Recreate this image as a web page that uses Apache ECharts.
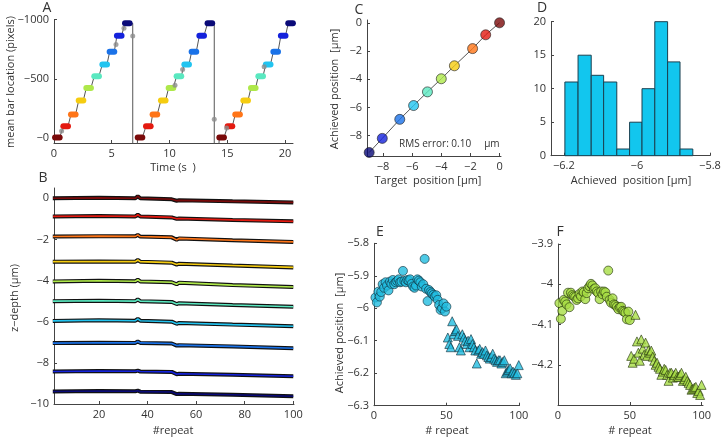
<!DOCTYPE html>
<html>
<head>
<meta charset="utf-8">
<script src="https://cdn.jsdelivr.net/npm/echarts@6/dist/echarts.min.js"></script>
<style>
html, body { margin: 0; padding: 0; background: #fff; }
#chart { width: 724px; height: 443px; }
</style>
</head>
<body>
<div id="chart"></div>
<script>
// ===== colours (jet, level 0 -> level 9) =====
const jet = ['#7a0a0a', '#e41a10', '#ff7518', '#f5cc10', '#aee84a', '#5ae8c0', '#22c4f0', '#1a72e8', '#1422dc', '#0a0a78']

// ===== A: mean bar location vs time =====
const aLevels = [-6, -101, -200, -318, -424, -523, -622, -728, -863, -968]
const aCycle1 = [0.29, 1.01, 1.67, 2.34, 3.0, 3.69, 4.39, 5.02, 5.65, 6.35]
const aCycle2 = [7.45, 8.17, 8.74, 9.46, 10.13, 10.82, 11.49, 12.12, 12.79, 13.5]
const aCycle3 = [14.52, 15.24, 15.9, 16.6, 17.26, 17.9, 18.55, 19.2, 19.85, 20.49]
const aDrops = [6.82, 13.88]
const aGrayDots = [[0.66, -62], [5.37, -790], [6.06, -926], [6.82, -861], [10.48, -447], [11.14, -580], [13.88, -160], [14.95, -87], [18.2, -602]]

// ===== B: z-depth vs repeat (key points of each trace) =====
const bX = [1, 20, 35, 36, 37, 50, 52, 53, 75, 100]
const bTraces = [
  [0.0, 0.02, 0.0, 0.1, 0.0, -0.05, -0.12, -0.1, -0.15, -0.2],
  [-0.88, -0.86, -0.88, -0.8, -0.88, -0.93, -1.0, -0.98, -1.05, -1.12],
  [-1.86, -1.84, -1.85, -1.78, -1.86, -1.9, -2.02, -1.95, -2.04, -2.12],
  [-3.08, -3.07, -3.08, -3.0, -3.08, -3.13, -3.22, -3.18, -3.27, -3.36],
  [-4.04, -4.01, -4.03, -3.96, -4.04, -4.08, -4.18, -4.1, -4.22, -4.31],
  [-5.0, -4.98, -5.0, -4.92, -5.0, -5.04, -5.14, -5.1, -5.19, -5.27],
  [-5.96, -5.93, -5.95, -5.86, -5.95, -6.0, -6.1, -6.06, -6.14, -6.22],
  [-7.04, -7.02, -7.03, -6.96, -7.03, -7.06, -7.16, -7.14, -7.2, -7.29],
  [-8.42, -8.4, -8.41, -8.38, -8.42, -8.44, -8.55, -8.53, -8.58, -8.65],
  [-9.39, -9.37, -9.38, -9.35, -9.4, -9.42, -9.52, -9.5, -9.55, -9.62],
]

// ===== C: target vs achieved =====
const cTarget = [0, -0.95, -1.85, -3.1, -4.0, -4.95, -5.9, -6.85, -8.05, -8.95]
const cAchieved = [0, -0.85, -1.83, -3.05, -3.97, -4.9, -5.87, -6.85, -8.2, -9.2]

// ===== D: histogram =====
const dEdges = [-6.197, -6.161, -6.125, -6.091, -6.055, -6.02, -5.986, -5.951, -5.916, -5.882, -5.847]
const dCounts = [11, 15, 12, 11, 1, 5, 10, 20, 14, 1]

// ===== E: achieved position per repeat (cyan level) =====
const eCircles = [-5.967, -5.982, -5.949, -5.964, -5.95, -5.926, -5.937, -5.92, -5.93, -5.945,
  -5.918, -5.925, -5.913, -5.926, -5.92, -5.916, -5.911, -5.92, -5.918, -5.885,
  -5.916, -5.92, -5.913, -5.915, -5.911, -5.925, -5.933, -5.937, -5.93, -5.911,
  -5.915, -5.92, -5.933, -5.926, -5.848, -5.94, -5.978, -5.944, -5.95, -5.954,
  -5.959, -5.964, -5.96, -5.974, -5.99, -6.005, -6.0, -5.985, -6.01, -5.995]
const eTriangles = [-6.09, -6.11, -6.12, -6.04, -6.08, -6.07, -6.065, -6.085, -6.12, -6.13,
  -6.08, -6.09, -6.1, -6.11, -6.1, -6.12, -6.095, -6.11, -6.12, -6.13,
  -6.17, -6.13, -6.125, -6.14, -6.135, -6.14, -6.13, -6.145, -6.15, -6.155,
  -6.15, -6.14, -6.155, -6.16, -6.165, -6.16, -6.16, -6.17, -6.165, -6.16,
  -6.2, -6.195, -6.19, -6.185, -6.2, -6.195, -6.2, -6.205, -6.2, -6.175]

// ===== F: achieved position per repeat (yellow-green level) =====
const fCircles = [-4.047, -4.086, -4.066, -4.039, -4.043, -4.05, -4.021, -4.057, -4.021, -4.027,
  -4.03, -4.032, -4.039, -4.035, -4.024, -4.03, -4.018, -4.02, -4.037, -4.022,
  -4.01, -4.005, -3.999, -4.003, -4.012, -4.01, -4.018, -4.022, -4.037, -4.018,
  -4.025, -4.018, -4.02, -4.031, -3.966, -4.039, -4.046, -4.035, -4.05, -4.052,
  -4.056, -4.062, -4.057, -4.056, -4.066, -4.068, -4.071, -4.087, -4.068, -4.089]
const fTriangles = [-4.178, -4.195, -4.185, -4.076, -4.142, -4.17, -4.19, -4.137, -4.16, -4.175,
  -4.145, -4.178, -4.164, -4.17, -4.165, -4.18, -4.19, -4.2, -4.195, -4.205,
  -4.21, -4.225, -4.217, -4.21, -4.213, -4.225, -4.24, -4.22, -4.22, -4.232,
  -4.225, -4.22, -4.23, -4.23, -4.225, -4.22, -4.24, -4.236, -4.23, -4.24,
  -4.245, -4.25, -4.262, -4.26, -4.257, -4.255, -4.27, -4.265, -4.275, -4.25]

// ===== helpers =====
const FONT = 'Open Sans'
const INK = '#333'
const fmt = (v) => String(Math.round(v * 1000) / 1000).replace('-', '\u2212')

function axis(gridIndex, min, max, ticks, extra) {
  return Object.assign({
    type: 'value', gridIndex, min, max,
    axisLine: { show: true, onZero: false, lineStyle: { color: '#444', width: 1 } },
    axisTick: { show: true, inside: true, length: 3, customValues: ticks, lineStyle: { color: '#444' } },
    axisLabel: { customValues: ticks, formatter: fmt, color: INK, fontFamily: FONT, fontSize: 11, margin: 5 },
    splitLine: { show: false },
  }, extra || {})
}

function label(text, x, y, rotated, size) {
  return {
    type: 'text', x, y, rotation: rotated ? Math.PI / 2 : 0,
    style: { text, fill: INK, fontFamily: FONT, fontSize: size || 11, align: 'center', verticalAlign: 'middle' },
  }
}

// A: gray trace path and coloured step segments
const aCycles = [aCycle1, aCycle2, aCycle3]
const aPath = []
const aSegments = []
aCycles.forEach((times, c) => {
  times.forEach((t, i) => {
    aPath.push([t - 0.2, aLevels[i]], [t + 0.2, aLevels[i]])
    aSegments.push([t, aLevels[i], i])
  })
  if (c < aDrops.length) {
    const next = aCycles[c + 1][0]
    aPath.push([aDrops[c], aLevels[9]], [aDrops[c], 150], [next - 0.3, 150])
  }
})

const series = []

series.push({
  type: 'line', xAxisIndex: 0, yAxisIndex: 0, data: aPath, symbol: 'none',
  lineStyle: { color: '#555', width: 1 }, z: 1, silent: true,
})
series.push({
  type: 'custom', xAxisIndex: 0, yAxisIndex: 0, data: aSegments, z: 3,
  renderItem(params, api) {
    const p0 = api.coord([api.value(0) - 0.2, api.value(1)])
    const p1 = api.coord([api.value(0) + 0.2, api.value(1)])
    return {
      type: 'line',
      shape: { x1: p0[0], y1: p0[1], x2: p1[0], y2: p1[1] },
      style: { stroke: jet[api.value(2)], lineWidth: 6, lineCap: 'round' },
    }
  },
})
series.push({
  type: 'scatter', xAxisIndex: 0, yAxisIndex: 0, data: aGrayDots, symbolSize: 5,
  itemStyle: { color: '#8c8c8c' }, z: 4,
})

// B traces
bTraces.forEach((vals, k) => {
  const data = bX.map((x, i) => [x, vals[i]])
  series.push({
    type: 'line', xAxisIndex: 1, yAxisIndex: 1, data, symbol: 'none',
    lineStyle: { color: '#111', width: 4 }, z: 2,
  })
  series.push({
    type: 'line', xAxisIndex: 1, yAxisIndex: 1, data, symbol: 'none',
    lineStyle: { color: jet[k], width: 1.6 }, z: 3,
  })
})

// C
const cData = cTarget.map((t, i) => [t, cAchieved[i]])
series.push({
  type: 'line', xAxisIndex: 2, yAxisIndex: 2, data: cData, symbol: 'none',
  lineStyle: { color: '#555', width: 1 }, z: 2,
})
series.push({
  type: 'scatter', xAxisIndex: 2, yAxisIndex: 2, symbolSize: 10, z: 3,
  data: cData.map((d, i) => ({ value: d, itemStyle: { color: jet[i] } })),
  itemStyle: { borderColor: '#222', borderWidth: 0.8 },
})

// D histogram
series.push({
  type: 'custom', xAxisIndex: 3, yAxisIndex: 3,
  data: dCounts.map((n, i) => [dEdges[i], dEdges[i + 1], n]),
  renderItem(params, api) {
    const a = api.coord([api.value(0), api.value(2)])
    const b = api.coord([api.value(1), 0])
    return {
      type: 'rect',
      shape: { x: a[0], y: a[1], width: b[0] - a[0], height: b[1] - a[1] },
      style: { fill: '#12c6ee', stroke: '#1b4150', lineWidth: 1 },
    }
  },
})

// E, F scatter
const mk = (arr, offset) => arr.map((v, i) => [i + 1 + offset, v])
const eStyle = { color: '#22bde0', borderColor: '#10303c', borderWidth: 0.8 }
const fStyle = { color: '#a8dd45', borderColor: '#24340c', borderWidth: 0.8 }
series.push({ type: 'scatter', xAxisIndex: 4, yAxisIndex: 4, data: mk(eCircles, 0), symbol: 'circle', symbolSize: 9, itemStyle: eStyle })
series.push({ type: 'scatter', xAxisIndex: 4, yAxisIndex: 4, data: mk(eTriangles, 50), symbol: 'triangle', symbolSize: 9, itemStyle: eStyle })
series.push({ type: 'scatter', xAxisIndex: 5, yAxisIndex: 5, data: mk(fCircles, 0), symbol: 'circle', symbolSize: 9, itemStyle: fStyle })
series.push({ type: 'scatter', xAxisIndex: 5, yAxisIndex: 5, data: mk(fTriangles, 50), symbol: 'triangle', symbolSize: 9, itemStyle: fStyle })

const option = {
  animation: false,
  grid: [
    { left: 54, top: 19.5, width: 239, height: 123.5 },
    { left: 54, top: 188, width: 240, height: 216 },
    { left: 367, top: 20, width: 134, height: 136 },
    { left: 551, top: 21.7, width: 159, height: 134 },
    { left: 374, top: 243.3, width: 145.5, height: 162.4 },
    { left: 558, top: 244, width: 145, height: 161 },
  ],
  xAxis: [
    axis(0, 0, 20.7, [0, 5, 10, 15, 20]),
    axis(1, 1.5, 100.3, [20, 40, 60, 80, 100]),
    axis(2, -9.1, 0.1, [-8, -6, -4, -2, 0]),
    axis(3, -6.235, -5.8, [-6.2, -6, -5.8]),
    axis(4, 0, 100.5, [0, 50, 100]),
    axis(5, 0, 101, [0, 50, 100]),
  ],
  yAxis: [
    axis(0, -1000, 40, [-1000, -500, 0], {
      inverse: true,
      axisLabel: { customValues: [-1000, -500, 0], formatter: (v) => (v === 0 ? '\u22120' : fmt(v)), color: INK, fontFamily: FONT, fontSize: 11, margin: 5 },
    }),
    axis(1, -10, 0.5, [-10, -8, -6, -4, -2, 0]),
    axis(2, -9.45, 0.2, [-8, -6, -4, -2, 0]),
    axis(3, 0, 20, [0, 5, 10, 15, 20]),
    axis(4, -6.3, -5.8, [-6.3, -6.2, -6.1, -6, -5.9, -5.8]),
    axis(5, -4.3, -3.9, [-4.2, -4.1, -4, -3.9]),
  ],
  series,
  graphic: [
    label('A', 47, 8, false, 14),
    label('B', 43, 178, false, 14),
    label('C', 359, 10, false, 14),
    label('D', 542, 8, false, 14),
    label('E', 380, 232, false, 14),
    label('F', 560, 232, false, 14),
    label('mean bar location (pixels)', 11, 82, true),
    label('Time (s  )', 173, 168),
    label('z\u2212depth (\u03bcm)', 15, 298, true),
    label('#repeat', 173, 431),
    label('Achieved position  [\u03bcm]', 335, 89, true),
    label('Target  position [\u03bcm]', 428, 181),
    label('Achieved  position [\u03bcm]', 631, 181),
    label('Achieved position  [\u03bcm]', 340, 333, true),
    label('# repeat', 447, 431),
    label('# repeat', 630, 431),
    { type: 'text', x: 399, y: 144, style: { text: 'RMS error: 0.10     \u03bcm', fill: INK, fontFamily: FONT, fontSize: 10, align: 'left', verticalAlign: 'middle' } },
  ],
}

const chart = echarts.init(document.getElementById('chart'))
chart.setOption(option)
</script>
</body>
</html>
